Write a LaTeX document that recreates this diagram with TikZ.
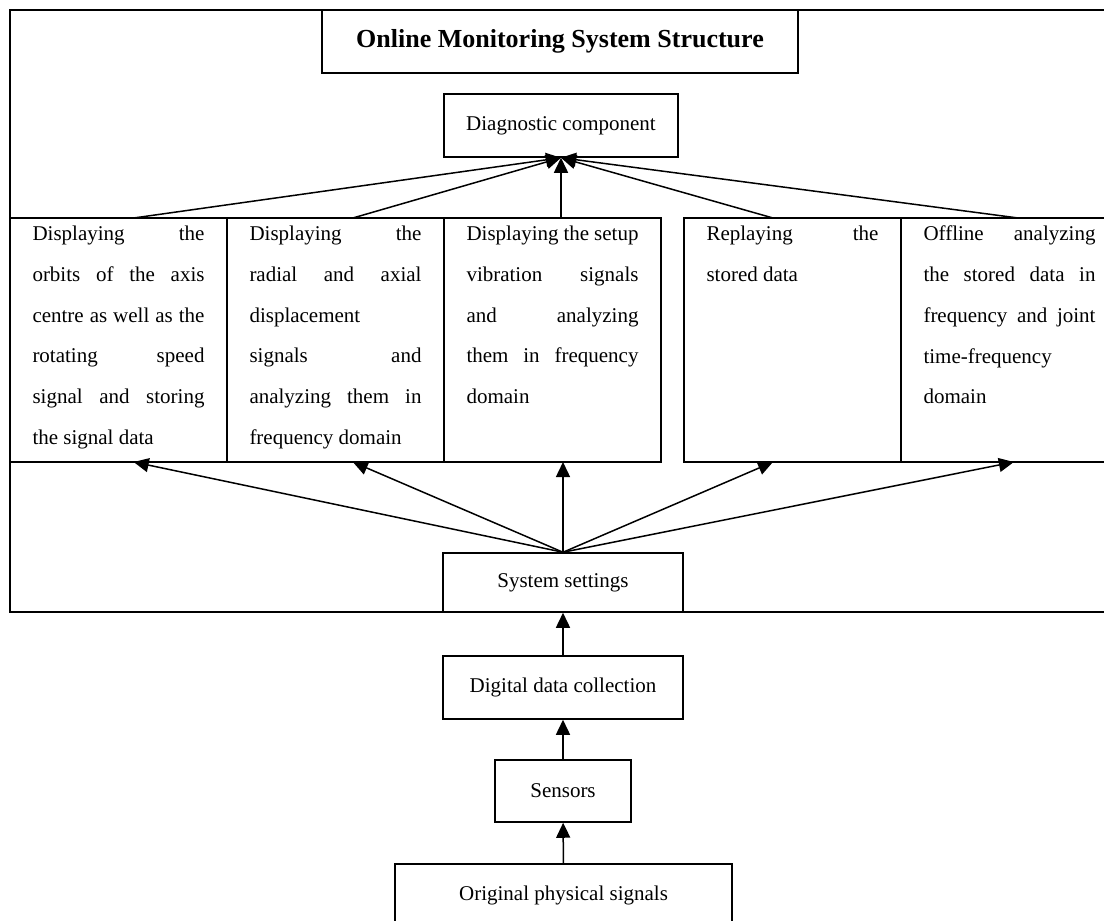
\documentclass[tikz,border=0pt]{standalone}
\usepackage{fontspec}
\setmainfont{Liberation Serif}
\usetikzlibrary{arrows.meta, positioning, calc}
\tikzset{
  lbox/.style={draw, line width=1.5pt, inner sep=0pt, align=center,
    font=\fontsize{21}{25}\selectfont},
  colbox/.style={draw, line width=1.5pt, inner sep=0pt, outer sep=0pt, anchor=north west,
    minimum width=217pt, minimum height=244pt},
  upflow/.style={-{Triangle[length=15pt,width=14pt]}, line width=1.5pt}
}
\newcommand{\coltext}[1]{\parbox[c][228pt][t]{172pt}{\fontsize{21pt}{40.8pt}\selectfont #1}}

\begin{document}
\begin{tikzpicture}[x=1pt, y=-1pt]
\useasboundingbox (0,0) rectangle (1104,921);
\clip (0,0) rectangle (1104,921);
% outer frame, open to the right
\draw[line width=2pt] (1120,10) -- (10,10) -- (10,612) -- (1120,612);

\node[lbox, minimum width=476pt, minimum height=63pt,
  font=\fontsize{26}{30}\selectfont\bfseries] (title) at (560,41.5) {Online Monitoring System Structure};
\node[lbox, minimum width=234pt, minimum height=63pt] (diag) at (561,125.5) {Diagnostic component};

% the five function panels
\node[colbox] (col1) at (10,218) {\coltext{Displaying the\linebreak orbits of the axis\linebreak centre as well as the\linebreak rotating speed\linebreak signal and storing\linebreak the signal data}};
\node[colbox, right=0pt of col1] (col2) {\coltext{Displaying the\linebreak radial and axial\linebreak displacement\linebreak signals and\linebreak analyzing them in\linebreak frequency domain}};
\node[colbox, right=0pt of col2] (col3) {\coltext{Displaying the setup\linebreak vibration signals\linebreak and analyzing\linebreak them in frequency\linebreak domain}};
\node[colbox, right=23pt of col3] (col4) {\coltext{Replaying the\linebreak stored data}};
\node[colbox, right=0pt of col4] (col5) {\coltext{Offline analyzing\linebreak the stored data in\linebreak frequency and joint\linebreak time-frequency\linebreak domain}};

\node[lbox, minimum width=240pt, minimum height=59pt] (sys) at (563,582.5) {System settings};
\node[lbox, minimum width=240pt, minimum height=63pt] (digi) at (563,687.5) {Digital data collection};
\node[lbox, minimum width=136pt, minimum height=62pt] (sens) at (563,791) {Sensors};
\node[lbox, minimum width=337pt, minimum height=62pt] (orig) at (563.5,895) {Original physical signals};

% panels up to the diagnostic component
\draw[upflow] ($(col1.north west)!0.57!(col1.north east)$) -- (diag.south);
\draw[upflow] ($(col2.north west)!0.58!(col2.north east)$) -- (diag.south);
\draw[upflow] (diag.south |- col3.north) -- (diag.south);
\draw[upflow] ($(col4.north west)!0.41!(col4.north east)$) -- (diag.south);
\draw[upflow] ($(col5.north west)!0.54!(col5.north east)$) -- (diag.south);

% settings up to the panels
\draw[upflow] (sys.north) -- ($(col1.south west)!0.57!(col1.south east)$);
\draw[upflow] (sys.north) -- ($(col2.south west)!0.58!(col2.south east)$);
\draw[upflow] (sys.north) -- (sys.north |- col3.south);
\draw[upflow] (sys.north) -- ($(col4.south west)!0.41!(col4.south east)$);
\draw[upflow] (sys.north) -- ($(col5.south west)!0.52!(col5.south east)$);

\draw[upflow] (digi) -- (sys);
\draw[upflow] (sens) -- (digi);
\draw[upflow] (orig) -- (sens);
\end{tikzpicture}
\end{document}
